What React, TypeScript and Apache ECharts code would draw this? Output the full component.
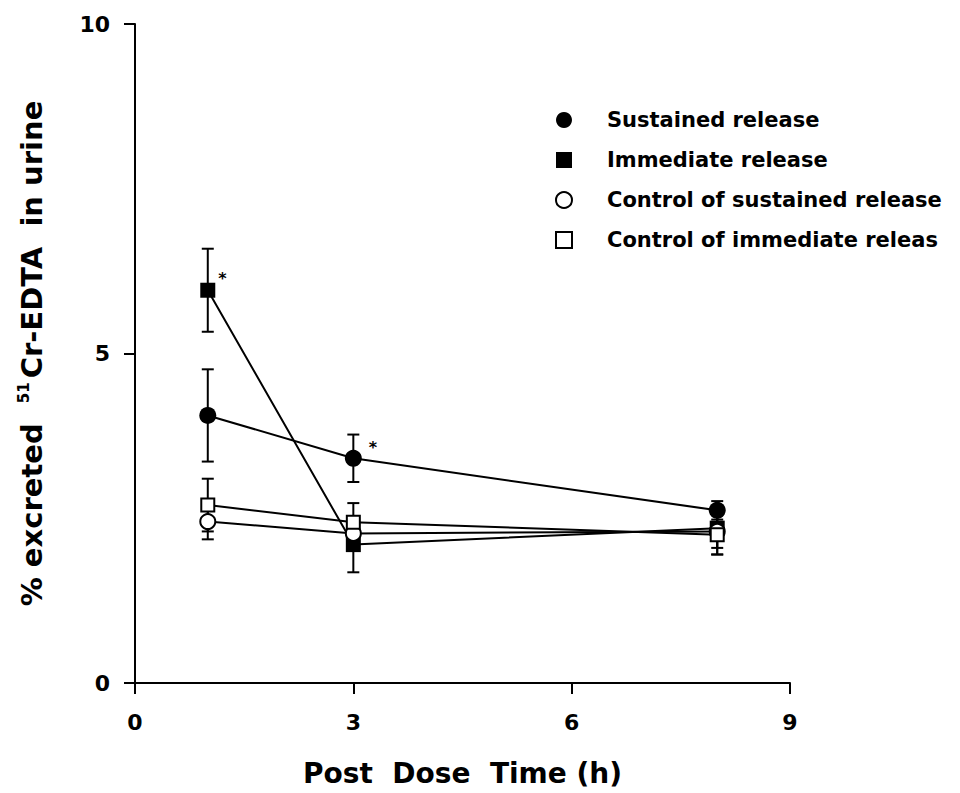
import React, { useEffect, useRef } from "react";
import * as echarts from "echarts";

const times = [1, 3, 8];
const sustained = [4.06, 3.41, 2.62];
const sustainedErr = [0.7, 0.36, 0.14];
const immediate = [5.96, 2.1, 2.35];
const immediateErr = [0.63, 0.42, 0.3];
const controlSustained = [2.45, 2.27, 2.3];
const controlSustainedErr = [0.27, 0.2, 0.35];
const controlImmediate = [2.7, 2.44, 2.25];
const controlImmediateErr = [0.4, 0.29, 0.3];
const seriesNames = [
  "Sustained release",
  "Immediate release",
  "Control of sustained release",
  "Control of immediate releas",
];
// significance marks: [series index, point index]
const starMarks: [number, number][] = [
  [1, 0],
  [0, 1],
];
const xTicks = [0, 3, 6, 9];
const yTicks = [0, 5, 10];

const FONT = "'DejaVu Sans', Verdana, sans-serif";

export default function App() {
  const ref = useRef<HTMLDivElement>(null);
  useEffect(() => {
    if (!ref.current) return;
    const chart = echarts.init(ref.current, null, { renderer: "svg" });
    const values = [sustained, immediate, controlSustained, controlImmediate];
    const errs = [sustainedErr, immediateErr, controlSustainedErr, controlImmediateErr];
    const symbols = ["circle", "rect", "circle", "rect"];
    const sizes = [17, 15, 15, 13];
    const filled = [true, true, false, false];
    const starOffsets = [
      [18, -12],
      [24, -10],
    ];

    const errSeries = values.map((vals, si) => ({
      type: "custom",
      name: "err" + si,
      z: 1,
      silent: true,
      data: times.map((t, i) => [t, vals[i] - errs[si][i], vals[i] + errs[si][i]]),
      renderItem: (params: any, api: any) => {
        const x = api.value(0);
        const lo = api.coord([x, api.value(1)]);
        const hi = api.coord([x, api.value(2)]);
        const hw = 6;
        const style = { stroke: "#000", lineWidth: 2 };
        return {
          type: "group",
          children: [
            { type: "line", shape: { x1: lo[0], y1: lo[1], x2: hi[0], y2: hi[1] }, style },
            { type: "line", shape: { x1: lo[0] - hw, y1: lo[1], x2: lo[0] + hw, y2: lo[1] }, style },
            { type: "line", shape: { x1: hi[0] - hw, y1: hi[1], x2: hi[0] + hw, y2: hi[1] }, style },
          ],
        };
      },
    }));

    const lineSeries = values.map((vals, si) => ({
      type: "line",
      name: seriesNames[si],
      z: 3,
      symbol: symbols[si],
      symbolSize: sizes[si],
      lineStyle: { color: "#000", width: 2 },
      itemStyle: filled[si]
        ? { color: "#000", borderColor: "#000", borderWidth: 0 }
        : { color: "#fff", borderColor: "#000", borderWidth: 2 },
      data: times.map((t, i) => {
        const k = starMarks.findIndex(([s, p]) => s === si && p === i);
        return k >= 0
          ? {
              value: [t, vals[i]],
              label: {
                show: true,
                formatter: "*",
                position: starOffsets[k],
                fontSize: 16,
                fontWeight: "bold",
                color: "#000",
                fontFamily: FONT,
              },
            }
          : { value: [t, vals[i]] };
      }),
    }));

    chart.setOption({
      animation: false,
      backgroundColor: "#fff",
      grid: {
        left: 135,
        right: 170,
        top: 24,
        bottom: 110,
        containLabel: false,
        outerBoundsMode: "none",
      },
      legend: {
        orient: "vertical",
        left: 550,
        top: 103,
        itemGap: 16,
        itemWidth: 16,
        itemHeight: 16,
        selectedMode: false,
        textStyle: {
          fontFamily: FONT,
          fontWeight: "bold",
          fontSize: 21,
          color: "#000",
          padding: [0, 0, 0, 30],
          lineHeight: 24,
        },
        data: seriesNames.map((n, i) => ({
          name: n,
          icon: symbols[i],
          itemStyle: filled[i]
            ? { color: "#000", borderWidth: 0 }
            : { color: "#fff", borderColor: "#000", borderWidth: 2 },
        })),
      },
      xAxis: {
        type: "value",
        min: xTicks[0],
        max: xTicks[xTicks.length - 1],
        interval: 3,
        name: "Post  Dose  Time (h)",
        nameLocation: "middle",
        nameGap: 76,
        nameTextStyle: { fontFamily: FONT, fontWeight: "bold", fontSize: 28, color: "#000" },
        axisLine: { lineStyle: { color: "#000", width: 2 } },
        axisTick: { show: true, length: 11, lineStyle: { color: "#000", width: 2 } },
        axisLabel: {
          fontFamily: FONT,
          fontWeight: "bold",
          fontSize: 22,
          color: "#000",
          margin: 28,
        },
        splitLine: { show: false },
      },
      yAxis: {
        type: "value",
        min: yTicks[0],
        max: yTicks[yTicks.length - 1],
        interval: 5,
        name: "% excreted  {sup|51}Cr-EDTA  in urine",
        nameLocation: "middle",
        nameGap: 88,
        nameTextStyle: {
          fontFamily: FONT,
          fontWeight: "bold",
          fontSize: 29,
          color: "#000",
          rich: {
            sup: {
              fontFamily: FONT,
              fontWeight: "bold",
              fontSize: 15,
              color: "#000",
              verticalAlign: "top",
              padding: [0, 4, 16, 0],
            },
          },
        },
        axisLine: { lineStyle: { color: "#000", width: 2 } },
        axisTick: { show: true, length: 11, lineStyle: { color: "#000", width: 2 } },
        axisLabel: {
          fontFamily: FONT,
          fontWeight: "bold",
          fontSize: 22,
          color: "#000",
          margin: 25,
        },
        splitLine: { show: false },
      },
      series: [...errSeries, ...lineSeries],
    });
    return () => chart.dispose();
  }, []);
  return (
    <div
      ref={ref}
      style={{ position: "absolute", left: 0, top: 0, width: 960, height: 793 }}
    />
  );
}
